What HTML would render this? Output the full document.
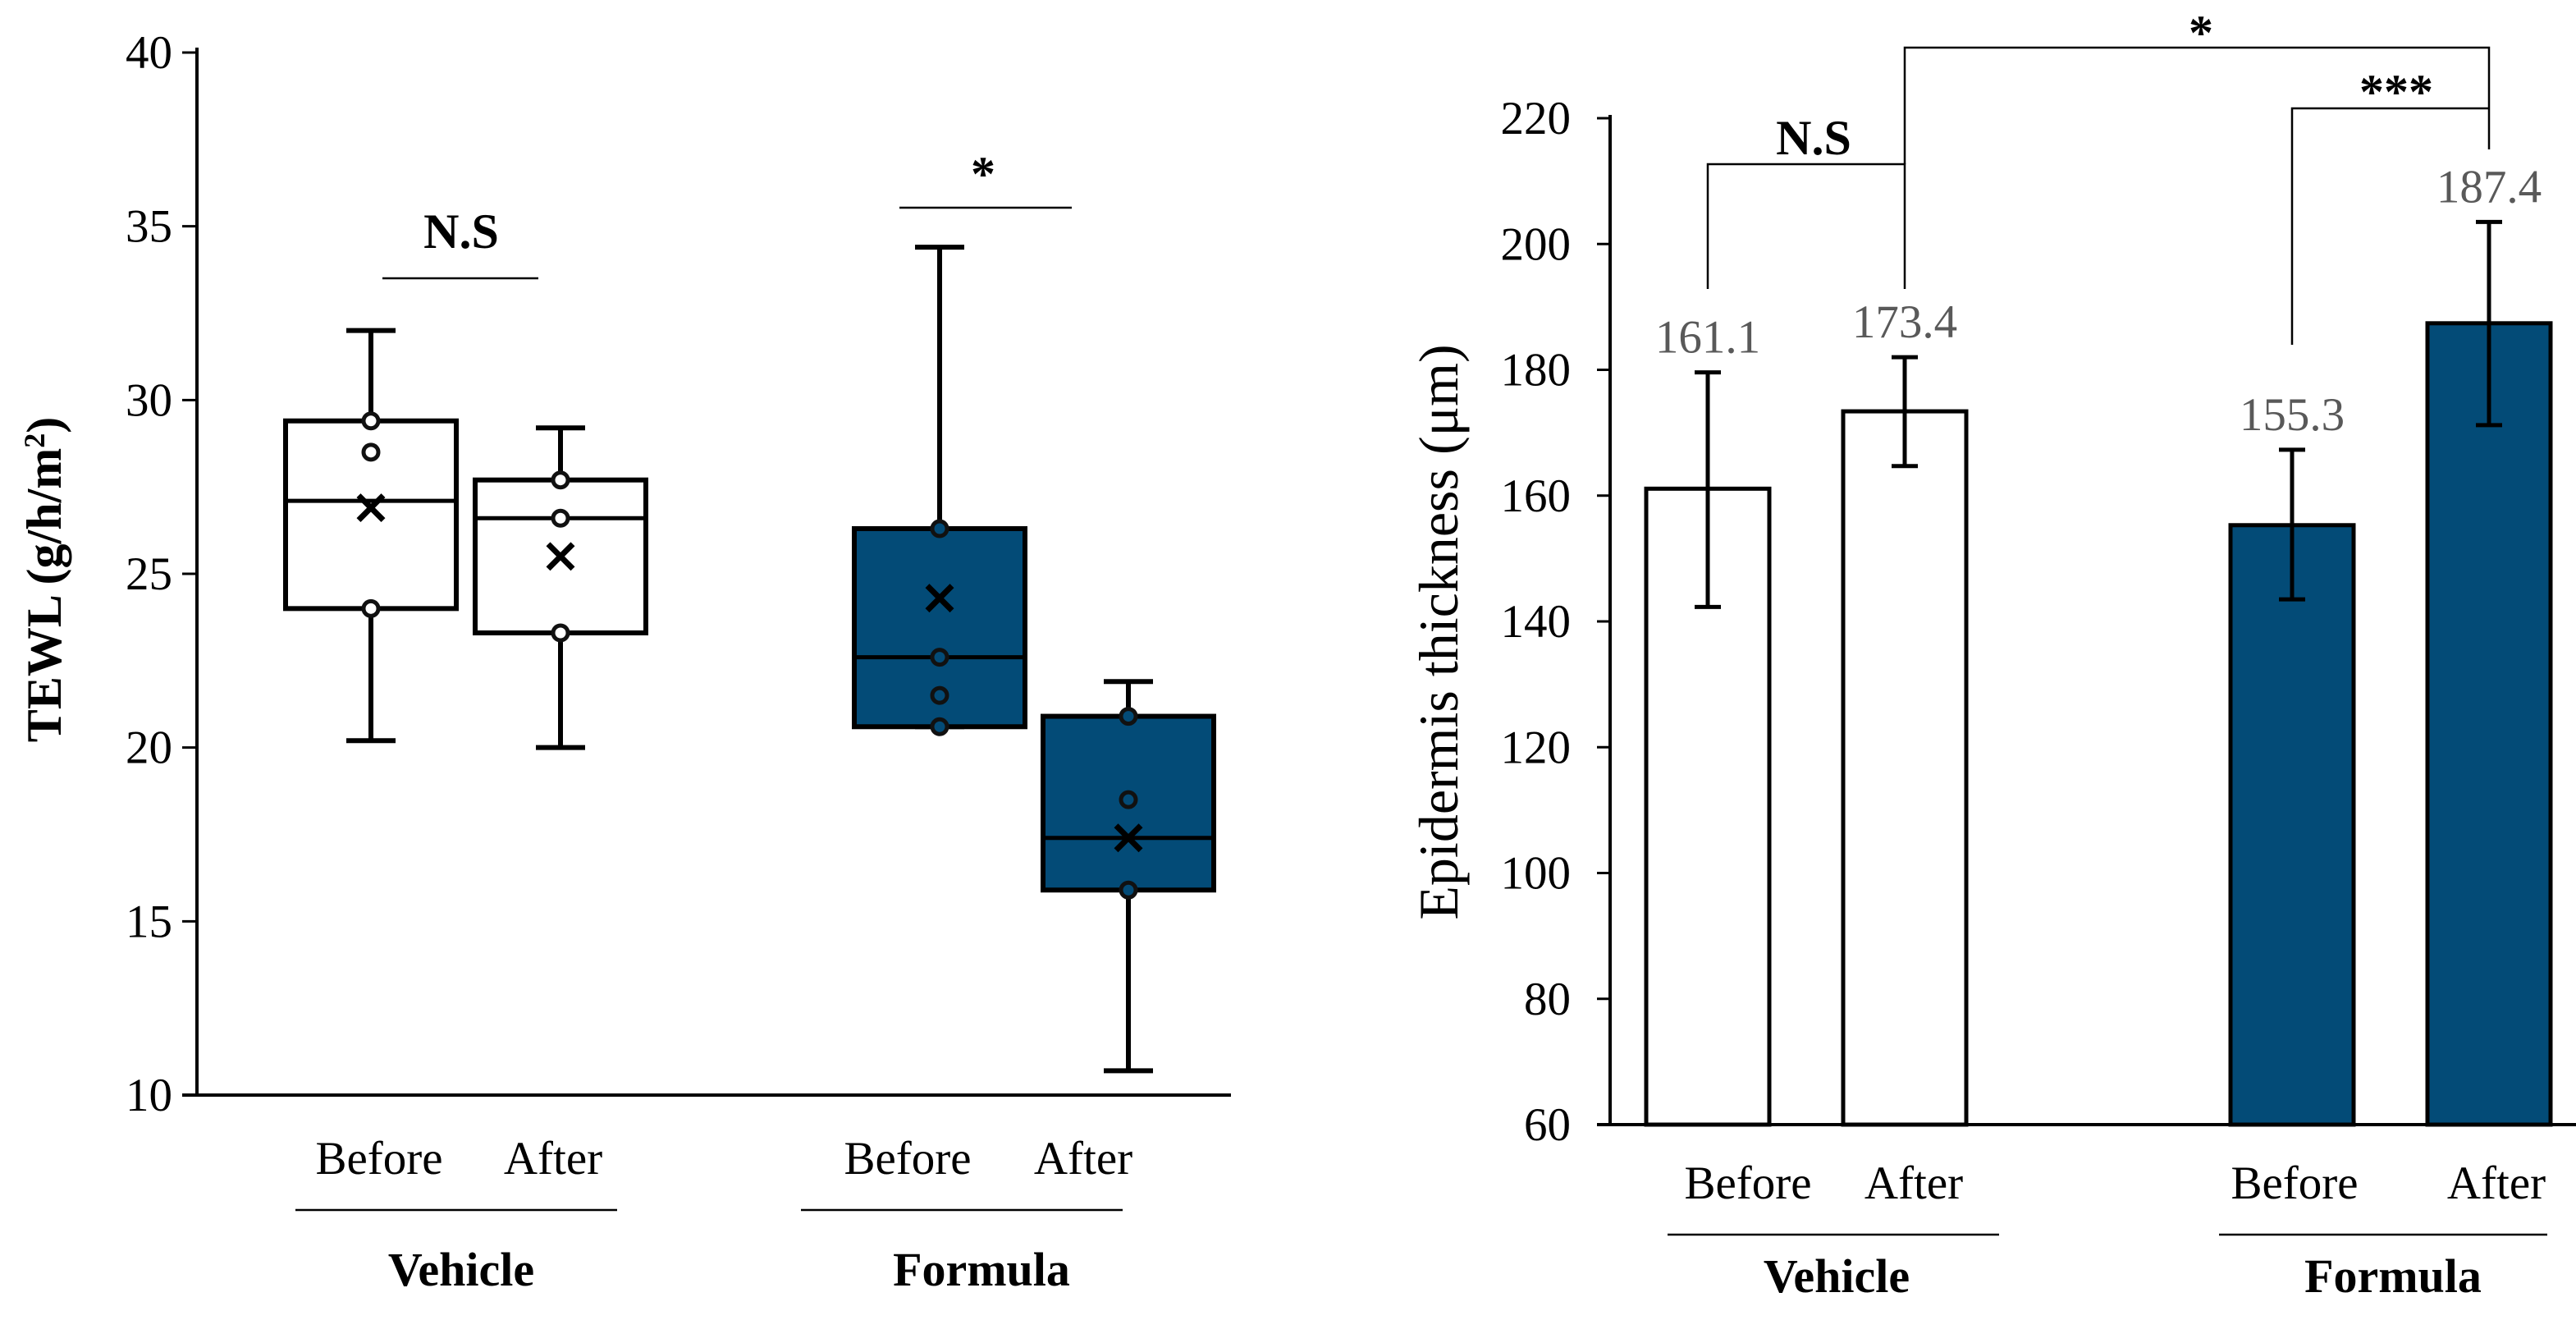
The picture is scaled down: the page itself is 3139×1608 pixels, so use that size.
<!DOCTYPE html>
<html><head><meta charset="utf-8"><style>
html,body{margin:0;padding:0;background:#fff;}
svg{display:block;font-family:"Liberation Serif",serif;}
</style></head><body>
<svg id="c" width="3139" height="1608" viewBox="0 0 3139 1608" xmlns="http://www.w3.org/2000/svg"></svg>
<script>
// Left chart data (TEWL box plots)
const boxCenters = [452, 683, 1145, 1375];
const boxFill = ['#ffffff','#ffffff','#034b77','#034b77'];
const whiskLow = [20.2, 20.0, 20.6, 10.7];
const whiskHigh = [32.0, 29.2, 34.4, 21.9];
const q1 = [24.0, 23.3, 20.6, 15.9];
const q3 = [29.4, 27.7, 26.3, 20.9];
const medians = [27.1, 26.6, 22.6, 17.4];
const means = [26.9, 25.5, 24.3, 17.4];
const points = [[29.4, 28.5, 24.0], [27.7, 26.6, 23.3], [26.3, 22.6, 21.5, 20.6], [20.9, 18.5, 15.9]];
const leftTicks = [10, 15, 20, 25, 30, 35, 40];
// Right chart data (epidermis thickness)
const barCenters = [2081, 2321, 2793, 3033];
const barValues = [161.1, 173.4, 155.3, 187.4];
const barLabels = ['161.1', '173.4', '155.3', '187.4'];
const errLow = [142.3, 164.7, 143.5, 171.2];
const errHigh = [179.6, 182.0, 167.3, 203.5];
const barFill = ['#ffffff','#ffffff','#034b77','#034b77'];
const rightTicks = [60, 80, 100, 120, 140, 160, 180, 200, 220];

const svg = document.getElementById('c');
const NS = 'http://www.w3.org/2000/svg';
function mk(tag, attrs, parent) {
  const e = document.createElementNS(NS, tag);
  for (const k in attrs) e.setAttribute(k, attrs[k]);
  (parent || svg).appendChild(e);
  return e;
}
function txt(s, x, y, size, opts) {
  const e = mk('text', Object.assign({x: x, y: y, 'font-size': size, fill: '#000'}, opts || {}));
  e.textContent = s;
  return e;
}
const yL = v => 1334 - (v - 10) * (1270 / 30);
const yR = v => 1370 - (v - 60) * (1226 / 160);
const FS = 57;

// ---- Left chart ----
const gL = mk('g', {});


let a = mk('line', {x1: 240, y1: 58, x2: 240, y2: 1336, stroke: '#000', 'stroke-width': 4}, gL);
 
a = mk('line', {x1: 222, y1: 1334, x2: 1500, y2: 1334, stroke: '#000', 'stroke-width': 4}, gL);
 
leftTicks.forEach(t => {
  mk('line', {x1: 222, y1: yL(t), x2: 240, y2: yL(t), stroke: '#000', 'stroke-width': 3}, gL);
  const e = txt(String(t), 210, yL(t) + 19, FS, {'text-anchor': 'end'});
   
});
boxCenters.forEach((cx, i) => {
  const g = mk('g', {}, gL);
   
  const hw = 104;
  mk('line', {x1: cx, y1: yL(whiskHigh[i]), x2: cx, y2: yL(q3[i]), stroke: '#000', 'stroke-width': 6}, g);
  mk('line', {x1: cx, y1: yL(whiskLow[i]), x2: cx, y2: yL(q1[i]), stroke: '#000', 'stroke-width': 6}, g);
  mk('line', {x1: cx - 30, y1: yL(whiskHigh[i]), x2: cx + 30, y2: yL(whiskHigh[i]), stroke: '#000', 'stroke-width': 6}, g);
  mk('line', {x1: cx - 30, y1: yL(whiskLow[i]), x2: cx + 30, y2: yL(whiskLow[i]), stroke: '#000', 'stroke-width': 6}, g);
  mk('rect', {x: cx - hw, y: yL(q3[i]), width: hw * 2, height: yL(q1[i]) - yL(q3[i]), fill: boxFill[i], stroke: '#000', 'stroke-width': 6}, g);
  mk('line', {x1: cx - hw, y1: yL(medians[i]), x2: cx + hw, y2: yL(medians[i]), stroke: '#000', 'stroke-width': 5}, g);
  points[i].forEach(p => mk('circle', {cx: cx, cy: yL(p), r: 9, fill: boxFill[i], stroke: '#111', 'stroke-width': 5}, g));
  const my = yL(means[i]);
  mk('path', {d: `M${cx-15},${my-15}L${cx+15},${my+15}M${cx-15},${my+15}L${cx+15},${my-15}`, stroke: '#000', 'stroke-width': 7}, g);
});
a = txt('TEWL (g/h/m', 0, 0, 60, {'font-weight': 'bold', 'text-anchor': 'middle', transform: 'translate(74,706) rotate(-90)'});
const sup = mk('tspan', {'font-size': 36, dy: -20}, a); sup.textContent = '2';
const cl = mk('tspan', {dy: 20}, a); cl.textContent = ')';
 
a = txt('N.S', 562, 302, 60, {'font-weight': 'bold', 'text-anchor': 'middle'});
 
mk('line', {x1: 466, y1: 339, x2: 656, y2: 339, stroke: '#000', 'stroke-width': 2.5}, gL);
a = txt('*', 1198, 232, 60, {'font-weight': 'bold', 'text-anchor': 'middle'});
 
mk('line', {x1: 1096, y1: 253, x2: 1306, y2: 253, stroke: '#000', 'stroke-width': 2.5}, gL);
[['Before', 462], ['After', 674], ['Before', 1106], ['After', 1320]].forEach(([s, x]) => {
  const e = txt(s, x, 1430, FS, {'text-anchor': 'middle'});
   
});
mk('line', {x1: 360, y1: 1474, x2: 752, y2: 1474, stroke: '#000', 'stroke-width': 2.5}, gL);
mk('line', {x1: 976, y1: 1474, x2: 1368, y2: 1474, stroke: '#000', 'stroke-width': 2.5}, gL);
a = txt('Vehicle', 562, 1566, 58, {'font-weight': 'bold', 'text-anchor': 'middle'});
 
a = txt('Formula', 1196, 1566, 58, {'font-weight': 'bold', 'text-anchor': 'middle'});
 

// ---- Right chart ----
const gR = mk('g', {});


a = mk('line', {x1: 1962, y1: 140, x2: 1962, y2: 1372, stroke: '#000', 'stroke-width': 4}, gR);
 
rightTicks.forEach(t => {
  mk('line', {x1: 1946, y1: yR(t), x2: 1962, y2: yR(t), stroke: '#000', 'stroke-width': 3}, gR);
  const e = txt(String(t), 1914, yR(t) + 19, FS, {'text-anchor': 'end'});
   
});
barCenters.forEach((cx, i) => {
  const r = mk('rect', {x: cx - 75, y: yR(barValues[i]), width: 150, height: yR(60) - yR(barValues[i]), fill: barFill[i], stroke: '#000', 'stroke-width': 5}, gR);
   
  mk('line', {x1: cx, y1: yR(errHigh[i]), x2: cx, y2: yR(errLow[i]), stroke: '#000', 'stroke-width': 5}, gR);
  mk('line', {x1: cx - 16, y1: yR(errHigh[i]), x2: cx + 16, y2: yR(errHigh[i]), stroke: '#000', 'stroke-width': 5}, gR);
  mk('line', {x1: cx - 16, y1: yR(errLow[i]), x2: cx + 16, y2: yR(errLow[i]), stroke: '#000', 'stroke-width': 5}, gR);
  const e = txt(barLabels[i], cx, yR(errHigh[i]) - 24, FS, {'text-anchor': 'middle', fill: '#595959'});
   
});
a = mk('line', {x1: 1946, y1: 1370, x2: 3139, y2: 1370, stroke: '#000', 'stroke-width': 4}, gR);
 
a = txt('Epidermis thickness (μm)', 0, 0, 68, {'text-anchor': 'middle', transform: 'translate(1776,770) rotate(-90)'});
 
// brackets
mk('polyline', {points: `${barCenters[0]},352 ${barCenters[0]},200 ${barCenters[1]},200 ${barCenters[1]},352`, fill: 'none', stroke: '#000', 'stroke-width': 2.5}, gR);
mk('polyline', {points: `${barCenters[1]},200 ${barCenters[1]},58 ${barCenters[3]},58 ${barCenters[3]},182`, fill: 'none', stroke: '#000', 'stroke-width': 2.5}, gR);
mk('polyline', {points: `${barCenters[2]},420 ${barCenters[2]},132 ${barCenters[3]},132`, fill: 'none', stroke: '#000', 'stroke-width': 2.5}, gR);
a = txt('N.S', 2210, 188, 60, {'font-weight': 'bold', 'text-anchor': 'middle'});
 
a = txt('*', 2682, 60, 60, {'font-weight': 'bold', 'text-anchor': 'middle'});
 
a = txt('***', 2920, 132, 60, {'font-weight': 'bold', 'text-anchor': 'middle'});
 
[['Before', 2130], ['After', 2332], ['Before', 2796], ['After', 3042]].forEach(([s, x]) => {
  const e = txt(s, x, 1460, FS, {'text-anchor': 'middle'});
   
});
mk('line', {x1: 2032, y1: 1504, x2: 2436, y2: 1504, stroke: '#000', 'stroke-width': 2.5}, gR);
mk('line', {x1: 2704, y1: 1504, x2: 3104, y2: 1504, stroke: '#000', 'stroke-width': 2.5}, gR);
a = txt('Vehicle', 2238, 1574, 58, {'font-weight': 'bold', 'text-anchor': 'middle'});
 
a = txt('Formula', 2916, 1574, 58, {'font-weight': 'bold', 'text-anchor': 'middle'});
 
</script>
</body></html>
